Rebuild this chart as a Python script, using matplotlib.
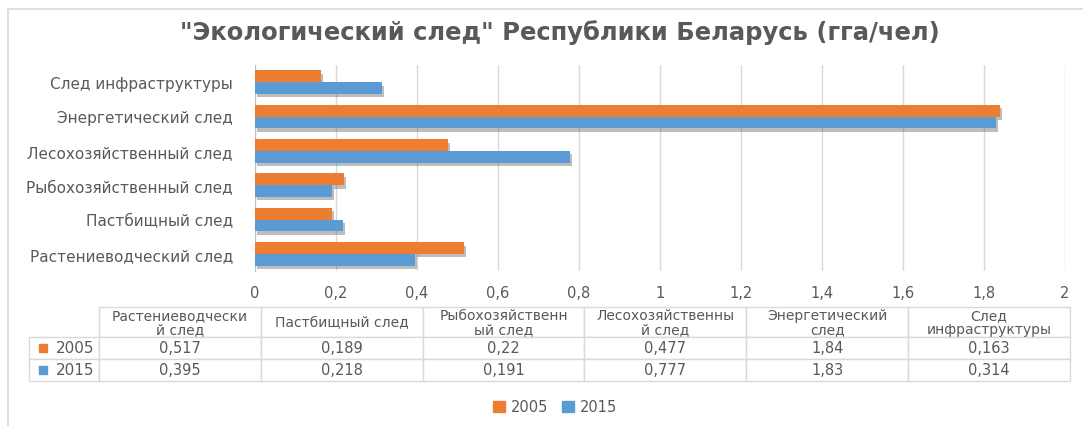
import matplotlib
matplotlib.use('Agg')
import matplotlib.pyplot as plt
import matplotlib.patheffects as pe
from matplotlib.patches import Rectangle, Patch
from matplotlib.ticker import FuncFormatter, MultipleLocator

# Data (гга/чел)
categories = ['Растениеводческий след', 'Пастбищный след', 'Рыбохозяйственный след',
              'Лесохозяйственный след', 'Энергетический след', 'След инфраструктуры']
table_headers = ['Растениеводчески\nй след', 'Пастбищный след', 'Рыбохозяйственн\nый след',
                 'Лесохозяйственны\nй след', 'Энергетический\nслед', 'След\nинфраструктуры']
years = ['2005', '2015']
values_2005 = [0.517, 0.189, 0.22, 0.477, 1.84, 0.163]
values_2015 = [0.395, 0.218, 0.191, 0.777, 1.83, 0.314]

ORANGE = '#ED7D31'
BLUE = '#5B9BD5'
TEXT = '#595959'
GRID = '#D9D9D9'

plt.rcParams['font.family'] = ['DejaVu Sans']

W, H = 1083, 427
fig = plt.figure(figsize=(W / 100, H / 100), dpi=100)

# chart frame
fig.patches.append(Rectangle((8 / W, -0.05), 1.2, 1 - 10 / H + 0.05, transform=fig.transFigure,
                             fill=False, edgecolor=GRID, linewidth=1.2))

fig.text(560 / W, 1 - 33 / H, '"Экологический след" Республики Беларусь (гга/чел)',
         ha='center', va='center', fontsize=17.5, fontweight='bold', color=TEXT)

ax = fig.add_axes([255 / W, 1 - 272 / H, 810 / W, 206 / H])
y = range(len(categories))
shadow = [pe.SimplePatchShadow(offset=(1.5, -2.5), alpha=0.35, shadow_rgbFace='#444444'), pe.Normal()]
h = 0.34
b05 = ax.barh([i + h / 2 for i in y], values_2005, height=h, color=ORANGE, zorder=3)
b15 = ax.barh([i - h / 2 for i in y], values_2015, height=h, color=BLUE, zorder=3)
for bar in list(b05) + list(b15):
    bar.set_path_effects(shadow)

ax.set_xlim(0, 2)
ax.set_ylim(-0.5, len(categories) - 0.5)
ax.xaxis.set_major_locator(MultipleLocator(0.2))
ax.xaxis.set_major_formatter(FuncFormatter(lambda v, p: f'{v:.1f}'.rstrip('0').rstrip('.').replace('.', ',')))
ax.set_yticks(list(y))
ax.set_yticklabels(categories)
ax.grid(axis='x', color=GRID, linewidth=1, zorder=0)
for s in ['top', 'right', 'bottom']:
    ax.spines[s].set_visible(False)
ax.spines['left'].set_color('#BFBFBF')
ax.tick_params(length=0, colors=TEXT, labelsize=10.5)
ax.tick_params(axis='y', labelsize=11, pad=16)
ax.tick_params(axis='x', pad=10)

# data table under the chart
tax = fig.add_axes([29 / W, 1 - 382 / H, 1041 / W, 74 / H])
tax.axis('off')
cell_text = [[''] + table_headers]
for yr, vals in zip(years, [values_2005, values_2015]):
    cell_text.append([yr] + [f'{v:g}'.replace('.', ',') for v in vals])
tbl = tax.table(cellText=cell_text, colWidths=[70] + [162] * 6, cellLoc='center', bbox=[0, 0, 1, 1])
tbl.auto_set_font_size(False)
tbl.set_fontsize(10.5)
for (r, c), cell in tbl.get_celld().items():
    cell.set_edgecolor(GRID)
    cell.set_linewidth(1)
    txt = cell.get_text()
    txt.set_color(TEXT)
    cell.set_height(30 if r == 0 else 22)
    if r == 0:
        txt.set_fontsize(10)
        txt.set_linespacing(0.95)
    if r == 0 and c == 0:
        cell.visible_edges = ''
    if r > 0 and c == 0:
        txt.set_ha('right')
        txt.set_fontsize(11)
        cell.PAD = 0.06
for r, col in [(1, ORANGE), (2, BLUE)]:
    cx = 14 / 1041
    cy = (22 * (2 - r) + 11) / 74
    tax.scatter([cx], [cy], marker='s', s=40, color=col, transform=tax.transAxes, clip_on=False)

handles = [Patch(color=ORANGE), Patch(color=BLUE)]
fig.legend(handles=handles, labels=years, loc='center', bbox_to_anchor=(555 / W, 1 - 408 / H),
           ncol=2, frameon=False, fontsize=10.5, labelcolor=TEXT, handlelength=0.8, handleheight=0.8,
           handletextpad=0.4, columnspacing=1.0)

fig.savefig('out.png', dpi=100)
